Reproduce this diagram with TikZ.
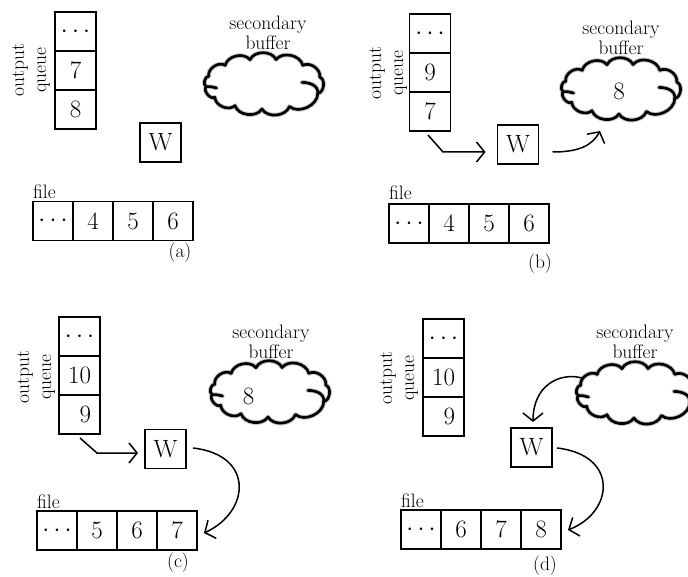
\documentclass[tikz,border=0pt]{standalone}
\usetikzlibrary{arrows.meta}
\begin{document}
\begin{tikzpicture}[x=1pt,y=-1pt,
  cellbox/.style={draw, line width=1.8pt, inner sep=0pt, outer sep=0pt, font=\fontsize{25}{25}\selectfont},
  qcell/.style={cellbox, minimum width=41pt, minimum height=39pt},
  fcell/.style={cellbox, minimum width=40pt, minimum height=39pt},
  wbox/.style={cellbox, minimum width=41pt, minimum height=39pt},
  digit/.style={inner sep=0pt, font=\fontsize{25}{25}\selectfont},
  lbl/.style={inner sep=0pt, font=\fontsize{19.5}{20.5}\selectfont, align=center},
  qlbl/.style={inner sep=0pt, rotate=90, align=center, font=\fontsize{19.5}{22}\selectfont},
  flbl/.style={inner sep=0pt, font=\fontsize{19.5}{20}\selectfont, anchor=base west},
  arr/.style={line width=1.5pt, -{Straight Barb[length=8pt,width=20pt,line width=1.5pt]}},
  cloudline/.style={line width=2.7pt, line join=round, line cap=round},
  cloudhalo/.style={line width=4.6pt, black!22, line join=round, line cap=round},
  % cloud outline: puffs along an ellipse, traversed right -> top -> left -> bottom
  puffcloud/.pic={
    \foreach \sty in {cloudhalo,cloudline}{
      \draw[\sty] (22:58 and 25) to[bend right=80] (-16:58 and 25)
        to[bend right=65] (-48:58 and 25) to[bend right=65] (-78:58 and 25)
        to[bend right=65] (-104:58 and 25) to[bend right=65] (-132:58 and 25)
        to[bend right=70] (-162:58 and 25) to[bend right=85] (-186:58 and 25)
        to[bend right=85] (-212:58 and 25) to[bend right=65] (-240:58 and 25)
        to[bend right=65] (-268:58 and 25) to[bend right=65] (-296:58 and 25)
        to[bend right=65] (-338:58 and 25);
      \draw[\sty] (-186:58 and 25) .. controls (-53,2.4) and (-51,3.2) .. (-47.5,4);
      \draw[\sty] (22:58 and 25) .. controls (54.5,1) and (45,-1.6) .. (38,-1.6);
    }
  },
]
\useasboundingbox (0,0) rectangle (688,577);
\clip (0,0) rectangle (688,577);

% ---------- (a) ----------
\node[qcell] (qa1) at (75.5,31.5) {$\cdots$};
\node[qcell] (qa2) at (75.5,70.5) {7};
\node[qcell] (qa3) at (75.5,109.5) {8};
\node[qlbl] (la) at (31,70) {output\\queue};
\node[wbox] (wa) at (160.5,142.5) {W};
\node[fcell] (fa1) at (53,221) {$\cdots$};
\node[fcell] (fa2) at (93,221) {4};
\node[fcell] (fa3) at (133,221) {5};
\node[fcell] (fa4) at (173,221) {6};
\node[flbl] (ta) at (33,199) {file};
\node[lbl] (pa) at (180,253) {(a)};
\pic at (264,84) {puffcloud};
\node[lbl] (sa) at (268,33) {secondary\\buffer};

% ---------- (b) ----------
\node[qcell] (qb1) at (430,33.5) {$\cdots$};
\node[qcell] (qb2) at (430,72.5) {9};
\node[qcell] (qb3) at (430,111.5) {7};
\node[qlbl] (lb) at (388,73) {output\\queue};
\node[wbox] (wb) at (518,144.5) {W};
\node[fcell] (fb1) at (409,223.5) {$\cdots$};
\node[fcell] (fb2) at (449,223.5) {4};
\node[fcell] (fb3) at (489,223.5) {5};
\node[fcell] (fb4) at (529,223.5) {6};
\node[flbl] (tb) at (389,200) {file};
\node[lbl] (pb) at (540,264) {(b)};
\pic at (621,89) {puffcloud};
\node[digit] (cb) at (619,91.5) {8};
\node[lbl] (sb) at (621,38) {secondary\\buffer};
\draw[arr] ([shift={(-2,4)}]qb3.south) -- (443,152) -- ([shift={(-12,7.5)}]wb.west);
\draw[arr] ([shift={(14,7.5)}]wb.east) .. controls (578,152) and (592,146) .. ([shift={(-19,39.5)}]cb.center);

% ---------- (c) ----------
\node[qcell] (qc1) at (79.5,336.5) {$\cdots$};
\node[qcell] (qc2) at (79.5,375.5) {10};
\node[qcell] (qc3) at (79.5,414.5) {\phantom{1}9};
\node[qlbl] (lc) at (36,377) {output\\queue};
\node[wbox] (wc) at (165.5,449) {W};
\node[fcell] (fc1) at (57,530.5) {$\cdots$};
\node[fcell] (fc2) at (97,530.5) {5};
\node[fcell] (fc3) at (137,530.5) {6};
\node[fcell] (fc4) at (177,530.5) {7};
\node[flbl] (tc) at (37,508) {file};
\node[lbl] (pc) at (178,563) {(c)};
\pic at (270,392) {puffcloud};
\node[digit] (cc) at (248.5,396.5) {8};
\node[lbl] (sc) at (271,342) {secondary\\buffer};
\draw[arr] ([shift={(0.5,4)}]qc3.south) -- (97,453) -- ([shift={(-7,4)}]wc.west);
\draw[arr] ([shift={(7,-1)}]wc.east) .. controls (255,455) and (250,512) .. ([shift={(7,2.5)}]fc4.east);

% ---------- (d) ----------
\node[qcell] (qd1) at (443.5,338.5) {$\cdots$};
\node[qcell] (qd2) at (443.5,377.5) {10};
\node[qcell] (qd3) at (443.5,416.5) {\phantom{1}9};
\node[qlbl] (ld) at (399,378) {output\\queue};
\node[wbox] (wd) at (531.5,447.5) {W};
\node[fcell] (fd1) at (421,529.5) {$\cdots$};
\node[fcell] (fd2) at (461,529.5) {6};
\node[fcell] (fd3) at (501,529.5) {7};
\node[fcell] (fd4) at (541,529.5) {8};
\node[flbl] (td) at (401,507) {file};
\node[lbl] (pd) at (545,566) {(d)};
\pic at (636,393) {puffcloud};
\coordinate (cd) at (636,393);
\node[lbl] (sd) at (635,342) {secondary\\buffer};
\draw[arr] ([shift={(-54,-15)}]cd) .. controls (560,372) and (533,385) .. ([shift={(1.5,-6)}]wd.north);
\draw[arr] ([shift={(5,0.5)}]wd.east) .. controls (619,455) and (614,512) .. ([shift={(7,0.5)}]fd4.east);
\end{tikzpicture}
\end{document}
